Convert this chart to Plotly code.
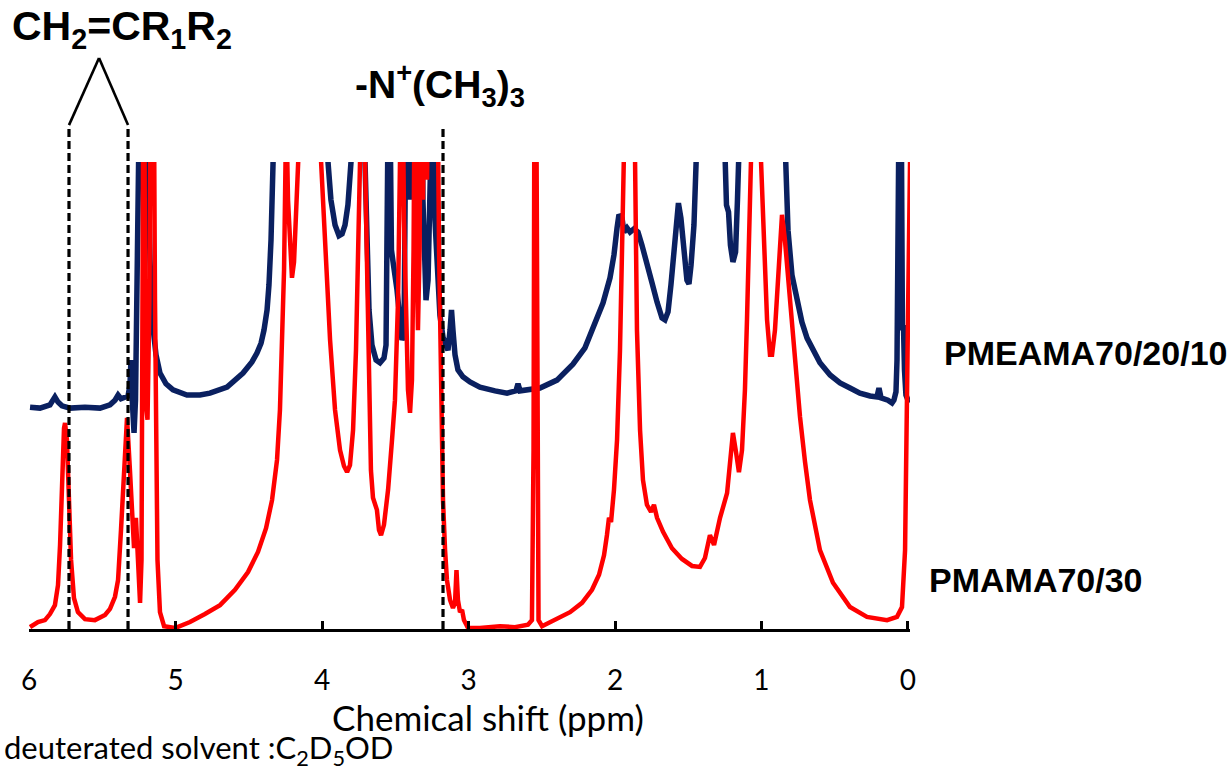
import plotly.graph_objects as go

# ---- data ----
ppm_red = [5.993, 5.939, 5.891, 5.857, 5.823, 5.802, 5.788, 5.775, 5.761, 5.754, 5.741, 5.727, 5.713, 5.693,
           5.666, 5.618, 5.550, 5.481, 5.447, 5.413, 5.392, 5.372, 5.352, 5.331, 5.311, 5.297, 5.283, 5.270,
           5.256, 5.242, 5.232, 5.225, 5.218, 5.211, 5.205, 5.191, 5.178, 5.167, 5.150, 5.140, 5.130, 5.123,
           5.106, 5.078, 5.003, 4.901, 4.799, 4.696, 4.594, 4.505, 4.437, 4.382, 4.341, 4.307, 4.287, 4.273,
           4.259, 4.249, 4.242, 4.232, 4.218, 4.205, 4.191, 4.171, 4.150, 4.116, 4.027, 4.007, 3.980, 3.945,
           3.911, 3.877, 3.850, 3.829, 3.809, 3.788, 3.768, 3.747, 3.734, 3.720, 3.706, 3.693, 3.679, 3.666,
           3.652, 3.635, 3.625, 3.611, 3.597, 3.577, 3.549, 3.522, 3.502, 3.481, 3.468, 3.454, 3.440, 3.427,
           3.413, 3.399, 3.386, 3.375, 3.365, 3.355, 3.345, 3.334, 3.324, 3.311, 3.297, 3.283, 3.270, 3.249,
           3.229, 3.215, 3.201, 3.188, 3.174, 3.160, 3.147, 3.126, 3.106, 3.092, 3.082, 3.072, 3.058, 3.044,
           3.031, 3.003, 2.922, 2.785, 2.683, 2.594, 2.567, 2.556, 2.549, 2.539, 2.532, 2.522, 2.498, 2.410,
           2.307, 2.225, 2.157, 2.109, 2.075, 2.055, 2.041, 2.027, 2.007, 1.986, 1.966, 1.952, 1.942, 1.918,
           1.884, 1.863, 1.850, 1.829, 1.809, 1.782, 1.754, 1.734, 1.713, 1.672, 1.611, 1.543, 1.474, 1.420,
           1.386, 1.352, 1.324, 1.283, 1.235, 1.215, 1.195, 1.174, 1.154, 1.133, 1.113, 1.099, 1.082, 1.044,
           1.003, 0.983, 0.962, 0.942, 0.928, 0.908, 0.880, 0.860, 0.840, 0.805, 0.771, 0.737, 0.703, 0.669,
           0.601, 0.512, 0.396, 0.280, 0.143, 0.075, 0.041, 0.020, 0.000, -0.014]
int_red = [0.4, 1.5, 1.9, 3.2, 5.1, 9.4, 18.0, 31.9, 43.0, 44.1, 40.5, 27.6, 14.8, 6.6,
           3.6, 2.1, 1.9, 3.0, 4.3, 6.9, 10.5, 21.2, 35.1, 45.2, 34.0, 23.3, 17.3, 23.8,
           15.8, 5.6, 14.8, 70.4, 130, 100, 49.0, 44.8, 70.4, 130, 130, 70.4, 27.6, 14.8,
           3.6, 0.6, 0.2, 1.5, 3.2, 5.1, 8.4, 12.2, 16.5, 21.6, 27.6, 36.2, 46.9, 59.7,
           76.9, 100, 109, 91.9, 80.1, 75.2, 78.6, 89.7, 100, 135, 113, 100, 81.2, 61.9,
           46.9, 38.3, 34.9, 33.6, 35.1, 42.6, 59.7, 85.4, 100, 130, 100, 74.7, 51.2, 34.0,
           28.1, 26.6, 25.5, 21.2, 20.1, 22.3, 29.8, 40.5, 49.0, 70.4, 100, 130, 87.6, 64.0,
           51.2, 46.3, 53.3, 81.2, 130, 81.2, 64.0, 81.2, 130, 91.9, 130, 96.2, 130, 102.6,
           130, 130, 81.2, 49.0, 27.6, 16.9, 10.5, 6.2, 4.5, 5.6, 12.6, 6.2, 3.6, 4.1,
           1.9, 0.2, 0.2, 0.6, 0.4, 0.9, 1.9, 38.3, 130, 130, 38.3, 1.9, 0.6, 1.9,
           3.6, 5.6, 8.4, 11.6, 15.8, 20.1, 23.8, 22.9, 29.8, 40.5, 59.7, 81.2, 100, 135,
           135, 100, 64.0, 42.6, 31.9, 26.6, 25.1, 26.6, 23.8, 20.8, 17.3, 15.0, 13.5, 13.3,
           15.2, 20.1, 18.0, 23.8, 29.1, 36.2, 42.0, 37.9, 33.6, 38.3, 51.2, 66.2, 100, 135,
           100, 81.2, 66.2, 58.7, 58.7, 64.0, 79.0, 88.7, 83.3, 70.4, 57.6, 45.4, 35.8, 27.6,
           16.9, 9.9, 4.7, 2.6, 1.9, 2.6, 4.7, 16.9, 66.8, 100]

ppm_navy = [5.993, 5.925, 5.857, 5.836, 5.823, 5.802, 5.775, 5.720, 5.618, 5.515, 5.447, 5.413, 5.392, 5.372,
            5.345, 5.324, 5.311, 5.304, 5.297, 5.283, 5.273, 5.266, 5.259, 5.252, 5.242, 5.201, 5.191, 5.184,
            5.174, 5.164, 5.154, 5.133, 5.106, 5.065, 5.017, 4.922, 4.833, 4.765, 4.648, 4.539, 4.478, 4.444,
            4.416, 4.396, 4.375, 4.362, 4.348, 4.334, 4.314, 3.980, 3.959, 3.939, 3.911, 3.884, 3.863, 3.843,
            3.823, 3.802, 3.782, 3.727, 3.706, 3.693, 3.679, 3.659, 3.631, 3.604, 3.577, 3.563, 3.556, 3.549,
            3.543, 3.532, 3.526, 3.515, 3.502, 3.488, 3.468, 3.454, 3.440, 3.430, 3.423, 3.413, 3.403, 3.392,
            3.382, 3.372, 3.362, 3.352, 3.341, 3.331, 3.321, 3.311, 3.304, 3.290, 3.276, 3.263, 3.252, 3.238,
            3.229, 3.215, 3.195, 3.174, 3.154, 3.140, 3.126, 3.116, 3.106, 3.092, 3.072, 3.038, 2.990, 2.922,
            2.819, 2.737, 2.676, 2.662, 2.648, 2.580, 2.512, 2.396, 2.287, 2.205, 2.137, 2.082, 2.034, 2.007,
            1.986, 1.973, 1.952, 1.939, 1.918, 1.897, 1.870, 1.843, 1.816, 1.782, 1.747, 1.713, 1.679, 1.659,
            1.638, 1.618, 1.597, 1.577, 1.567, 1.550, 1.529, 1.509, 1.495, 1.481, 1.461, 1.440, 1.420, 1.270,
            1.249, 1.239, 1.225, 1.212, 1.195, 1.177, 1.164, 1.150, 1.133, 0.860, 0.840, 0.819, 0.792, 0.758,
            0.724, 0.689, 0.642, 0.601, 0.532, 0.464, 0.396, 0.328, 0.259, 0.212, 0.198, 0.184, 0.137, 0.109,
            0.096, 0.082, 0.075, 0.068, 0.058, 0.044, 0.038, 0.031, 0.024, 0.014, 0.000, -0.014]
int_navy = [47.5, 47.3, 48.0, 48.8, 49.7, 48.6, 47.8, 47.3, 47.5, 47.3, 48.0, 49.0, 50.1, 49.3,
            49.5, 49.9, 52.2, 57.6, 50.1, 42.0, 49.0, 70.4, 81.2, 100, 124, 124, 100, 85.4,
            79.0, 70.4, 64.7, 58.7, 54.8, 52.5, 51.2, 50.1, 50.1, 50.5, 51.8, 54.8, 57.2, 59.1,
            61.2, 64.0, 68.3, 73.7, 83.3, 100, 124, 124, 100, 91.9, 86.5, 84.2, 84.6, 86.5,
            90.8, 100, 124, 124, 100, 81.2, 68.3, 60.8, 57.6, 57.0, 58.0, 60.8, 81.2, 100,
            130, 100, 81.2, 78.6, 75.8, 72.6, 66.2, 61.9, 63.0, 81.2, 130, 91.9, 130, 91.9,
            130, 96.2, 130, 94.0, 130, 85.4, 130, 91.9, 79.9, 70.4, 74.7, 91.9, 130, 130,
            87.6, 76.9, 67.2, 62.5, 60.2, 59.7, 64.0, 68.3, 64.0, 58.7, 55.5, 54.0, 52.9, 51.8,
            51.0, 50.5, 51.0, 52.5, 51.0, 51.2, 51.6, 53.3, 56.7, 60.2, 65.1, 69.8, 75.2, 80.1,
            85.9, 88.7, 88.0, 85.0, 85.9, 85.0, 85.7, 85.0, 82.2, 78.6, 74.1, 70.0, 66.6, 66.2,
            67.9, 73.7, 82.2, 90.4, 91.2, 88.0, 81.2, 74.7, 73.9, 77.9, 86.5, 100, 124, 124,
            100, 90.8, 89.3, 82.2, 78.6, 80.7, 91.9, 100, 124, 124, 100, 85.4, 75.8, 70.4,
            65.7, 62.3, 59.3, 57.0, 54.4, 52.7, 51.6, 50.5, 49.9, 49.7, 51.6, 49.5, 49.0, 48.4,
            49.0, 50.8, 57.6, 100, 124, 100, 64.0, 65.1, 55.5, 50.1, 49.0, 48.6]

tick_vals = [6, 5, 4, 3, 2, 1, 0]
tick_text = ["6", "5", "4", "3", "2", "1", "0"]
vinyl_ppm = [5.727, 5.324]      # CH2=CR1R2 marker lines
vinyl_apex_ppm = 5.522
ammonium_ppm = 3.174            # -N+(CH3)3 marker line

series_names = ["PMEAMA70/20/10", "PMAMA70/30"]

NAVY = "#0a2060"
RED = "#ff0000"

fig = go.Figure()
fig.add_trace(go.Scatter(x=ppm_navy, y=int_navy, mode="lines", name=series_names[0],
                         line=dict(color=NAVY, width=5.5), showlegend=False, hoverinfo="skip"))
fig.add_trace(go.Scatter(x=ppm_red, y=int_red, mode="lines", name=series_names[1],
                         line=dict(color=RED, width=4.5), showlegend=False, hoverinfo="skip"))

top = 1.079
for p in vinyl_ppm + [ammonium_ppm]:
    fig.add_shape(type="line", xref="x", yref="paper", x0=p, x1=p, y0=0, y1=top,
                  line=dict(color="black", width=3.2, dash="8px,4px"))
for p in vinyl_ppm:
    fig.add_shape(type="line", xref="x", yref="paper", x0=p, x1=vinyl_apex_ppm, y0=top, y1=1.2227,
                  line=dict(color="black", width=2.6))

bold = dict(family="Liberation Sans, Arial, sans-serif", color="black")
lato = dict(family="Lato, Calibri, sans-serif", color="black")

fig.add_annotation(text="<b>CH<sub>2</sub>=CR<sub>1</sub>R<sub>2</sub></b>", xref="paper", yref="paper",
                   x=-0.0216, y=1.284, xanchor="left", yanchor="middle", showarrow=False,
                   font=dict(size=41, **bold))
fig.add_annotation(text="<b>-N<sup>+</sup>(CH<sub>3</sub>)<sub>3</sub></b>", xref="paper", yref="paper",
                   x=0.4665, y=1.164, xanchor="center", yanchor="middle", showarrow=False,
                   font=dict(size=39, **bold))
fig.add_annotation(text="<b>" + series_names[0] + "</b>", xref="paper", yref="paper",
                   x=1.0363, y=0.591, xanchor="left", yanchor="middle", showarrow=False,
                   font=dict(size=34, **bold))
fig.add_annotation(text="<b>" + series_names[1] + "</b>", xref="paper", yref="paper",
                   x=1.0193, y=0.105, xanchor="left", yanchor="middle", showarrow=False,
                   font=dict(size=34, **bold))
fig.add_annotation(text="Chemical shift (ppm)", xref="paper", yref="paper",
                   x=0.521, y=-0.188, xanchor="center", yanchor="middle", showarrow=False,
                   font=dict(size=35, **lato))
fig.add_annotation(text="deuterated solvent :C<sub>2</sub>D<sub>5</sub>OD", xref="paper", yref="paper",
                   x=-0.0306, y=-0.258, xanchor="left", yanchor="middle", showarrow=False,
                   font=dict(size=31, **lato))

fig.update_layout(
    width=1231, height=771,
    margin=dict(l=29, r=321, t=162, b=142, pad=0),
    paper_bgcolor="white", plot_bgcolor="white",
    hovermode=False,
    xaxis=dict(range=[6.0, -0.0137], tickvals=tick_vals, ticktext=tick_text,
               ticks="inside", ticklen=8, tickwidth=3, tickcolor="black",
               showline=True, linecolor="black", linewidth=3, mirror=False,
               showgrid=False, zeroline=False, ticklabelstandoff=24,
               tickfont=dict(size=28, **lato)),
    yaxis=dict(range=[0, 100], visible=False, showgrid=False, zeroline=False),
)

fig.write_html("out.html", config={"displayModeBar": False},
               post_script="document.body.style.margin='0';document.body.style.overflow='hidden';")
